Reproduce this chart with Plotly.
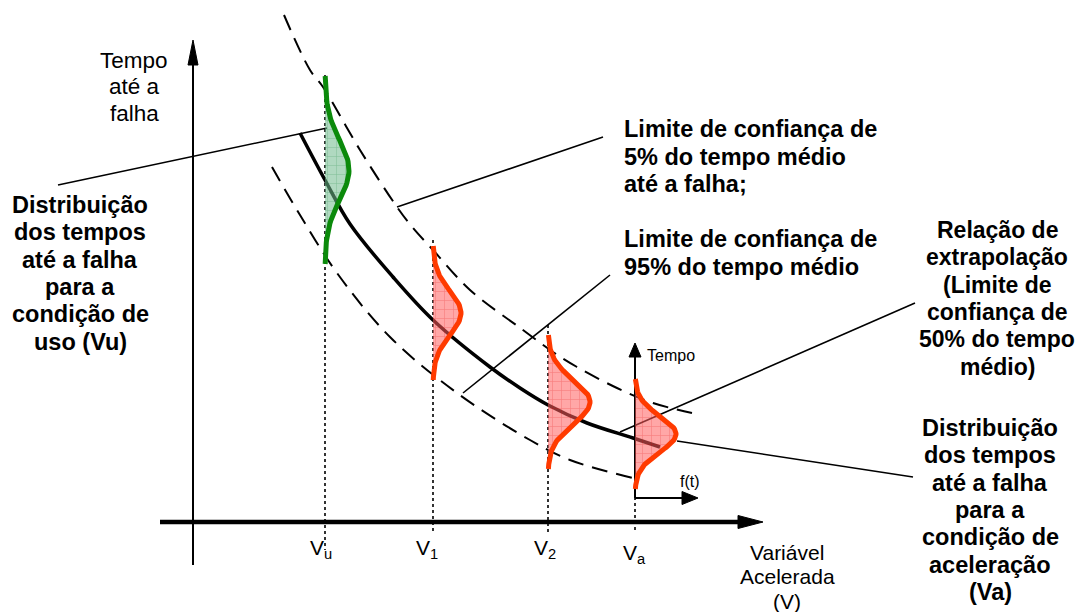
import numpy as np
import plotly.graph_objects as go

# ---------------- data (in canvas units) ----------------
# extrapolation relation (50% confidence) - solid thick curve
main_x = [300, 325, 350, 393, 433, 490, 520, 548, 587, 633, 660]
main_y = [133, 180, 224, 277, 320, 367, 388, 405, 423, 438, 447]
# 5% confidence limit - upper dashed curve
upper_x = [284, 310, 323, 360, 397, 413, 433, 470, 523, 553, 577, 617, 653, 692]
upper_y = [15, 70, 87, 150, 207, 228, 250, 290, 330, 352, 367, 388, 403, 413]
# 95% confidence limit - lower dashed curve
lower_x = [272, 300, 337, 390, 457, 530, 570, 633]
lower_y = [167, 215, 273, 337, 393, 440, 460, 478]

# stress levels (positions on the accelerated variable axis)
level_names = ["V<sub>u</sub>", "V<sub>1</sub>", "V<sub>2</sub>", "V<sub>a</sub>"]
level_x = [325, 433, 548, 635]
level_top = [75, 240, 325, 497]
level_bottom = [550, 533, 535, 530]

# time-to-failure distributions at each level: centre, half length, peak height, spread
dist_center = [170, 313, 402, 434]
dist_half = [94, 67, 67, 55]
dist_peak = [24, 28, 42, 41]
dist_sigma = [30, 22, 22, 18]
dist_line = ["#0b8a0b", "#ff3a00", "#ff3a00", "#ff3a00"]
dist_bg = ["rgba(110,185,140,0.55)", "rgba(255,95,95,0.55)", "rgba(255,95,95,0.55)", "rgba(255,95,95,0.55)"]
dist_fg = ["rgba(20,130,60,0.6)", "rgba(225,0,0,0.55)", "rgba(225,0,0,0.55)", "rgba(225,0,0,0.55)"]

# leader lines from labels to features
leader_x = [(58, 327), (397, 603), (463, 610), (620, 915), (677, 913)]
leader_y = [(185, 128), (207, 137), (393, 275), (432, 303), (441, 477)]

# axes (start, tip)
yaxis_line = ((193, 565), (193, 40))
xaxis_line = ((160, 522), (763, 522))
small_t_axis = ((635, 498), (635, 343))
small_f_axis = ((635, 498), (698, 498))

# the page places the plot 8 px from the top-left corner of the window
OFF = 8
W, H = 1085, 612
fig = go.Figure()


def add_line(xs, ys, width=1.5, color="black", dash=None, shape="linear"):
    fig.add_trace(go.Scatter(x=list(xs), y=list(ys), mode="lines",
                             line=dict(color=color, width=width, dash=dash, shape=shape, smoothing=1.0),
                             hoverinfo="skip", showlegend=False))


def add_arrow(p0, p1, width, head_len, head_w):
    (x0, y0), (x1, y1) = p0, p1
    dx, dy = x1 - x0, y1 - y0
    L = (dx * dx + dy * dy) ** 0.5
    ux, uy = dx / L, dy / L
    bx, by = x1 - ux * head_len, y1 - uy * head_len
    add_line([x0, bx + ux * 1], [y0, by + uy * 1], width=width)
    px, py = -uy, ux
    tri_x = [x1, bx + px * head_w / 2, bx - px * head_w / 2, x1]
    tri_y = [y1, by + py * head_w / 2, by - py * head_w / 2, y1]
    fig.add_trace(go.Scatter(x=tri_x, y=tri_y, mode="lines", fill="toself",
                             fillcolor="black", line=dict(color="black", width=1),
                             hoverinfo="skip", showlegend=False))


# axes
add_arrow(*yaxis_line, width=2, head_len=25, head_w=10)
add_arrow(*xaxis_line, width=4.5, head_len=25, head_w=13)

# dotted level lines
for x, t, b in zip(level_x, level_top, level_bottom):
    add_line([x, x], [t, b], width=1.6, dash="dot")

# curves
add_line(upper_x, upper_y, width=2, dash="16px,9px", shape="spline")
add_line(lower_x, lower_y, width=2, dash="16px,9px", shape="spline")
add_line(main_x, main_y, width=3.5, shape="spline")

# leader lines
for xs, ys in zip(leader_x, leader_y):
    add_line(xs, ys, width=1.6)

# small f(t) / Tempo axes
add_arrow(*small_t_axis, width=2, head_len=14, head_w=12)
add_arrow(*small_f_axis, width=2, head_len=16, head_w=13)

# distributions
for i in range(4):
    c, h, a, s, x0 = dist_center[i], dist_half[i], dist_peak[i], dist_sigma[i], level_x[i]
    ys = np.linspace(c - h, c + h, 80)
    xs = x0 + a * np.exp(-0.5 * ((ys - c) / s) ** 2)
    fx = np.concatenate([xs, [x0, x0], [xs[0]]])
    fy = np.concatenate([ys, [ys[-1], ys[0]], [ys[0]]])
    fig.add_trace(go.Scatter(x=fx, y=fy, mode="lines", fill="toself",
                             fillcolor=dist_bg[i],
                             fillpattern=dict(shape="+", bgcolor=dist_bg[i], fgcolor=dist_fg[i],
                                              size=9, solidity=0.12),
                             line=dict(width=0), hoverinfo="skip", showlegend=False))
    fig.add_trace(go.Scatter(x=xs, y=ys, mode="lines",
                             line=dict(color=dist_line[i], width=5),
                             hoverinfo="skip", showlegend=False))

# ---------------- text ----------------
FONT = "Liberation Sans, Arial, sans-serif"
BOLD = 23.5


def text_block(lines, x, y0, dy, size, bold=False, anchor="center"):
    for k, t in enumerate(lines):
        fig.add_annotation(x=x, y=y0 + k * dy, xref="x", yref="y",
                           text=f"<b>{t}</b>" if bold else t, showarrow=False,
                           xanchor=anchor, yanchor="middle",
                           font=dict(family=FONT, size=size, color="black"))


text_block(["Tempo", "até a", "falha"], 134, 60, 26.5, 22.5)
text_block(["Distribuição", "dos tempos", "até a falha", "para a", "condição de", "uso (Vu)"],
           80, 205, 27.3, BOLD, bold=True)
text_block(["Limite de confiança de", "5% do tempo médio", "até a falha;"],
           622, 129, 27.5, BOLD, bold=True, anchor="left")
text_block(["Limite de confiança de", "95% do tempo médio"],
           622, 239, 27.5, BOLD, bold=True, anchor="left")
text_block(["Relação de", "extrapolação", "(Limite de", "confiança de", "50% do tempo", "médio)"],
           997, 230, 27.3, 23, bold=True)
text_block(["Distribuição", "dos tempos", "até a falha", "para a", "condição de", "aceleração", "(Va)"],
           990, 428, 27.3, BOLD, bold=True)
text_block(["Variável", "Acelerada", "(V)"], 787, 552, 24.5, 21)
text_block(["Tempo"], 645, 355, 0, 16, anchor="left")
text_block(["f(t)"], 690, 481, 0, 16)

label_y = [549, 549, 549, 554]
for name, x, y in zip(level_names, [321, 427, 545, 634], label_y):
    fig.add_annotation(x=x, y=y, xref="x", yref="y", text=name, showarrow=False,
                       xanchor="center", yanchor="middle",
                       font=dict(family=FONT, size=21, color="black"))

fig.update_layout(
    width=W - OFF, height=H - OFF, margin=dict(l=0, r=0, t=0, b=0),
    paper_bgcolor="white", plot_bgcolor="white", showlegend=False,
    xaxis=dict(range=[OFF, W], visible=False, fixedrange=True),
    yaxis=dict(range=[H, OFF], visible=False, fixedrange=True),
)
fig.write_html("out.html")
